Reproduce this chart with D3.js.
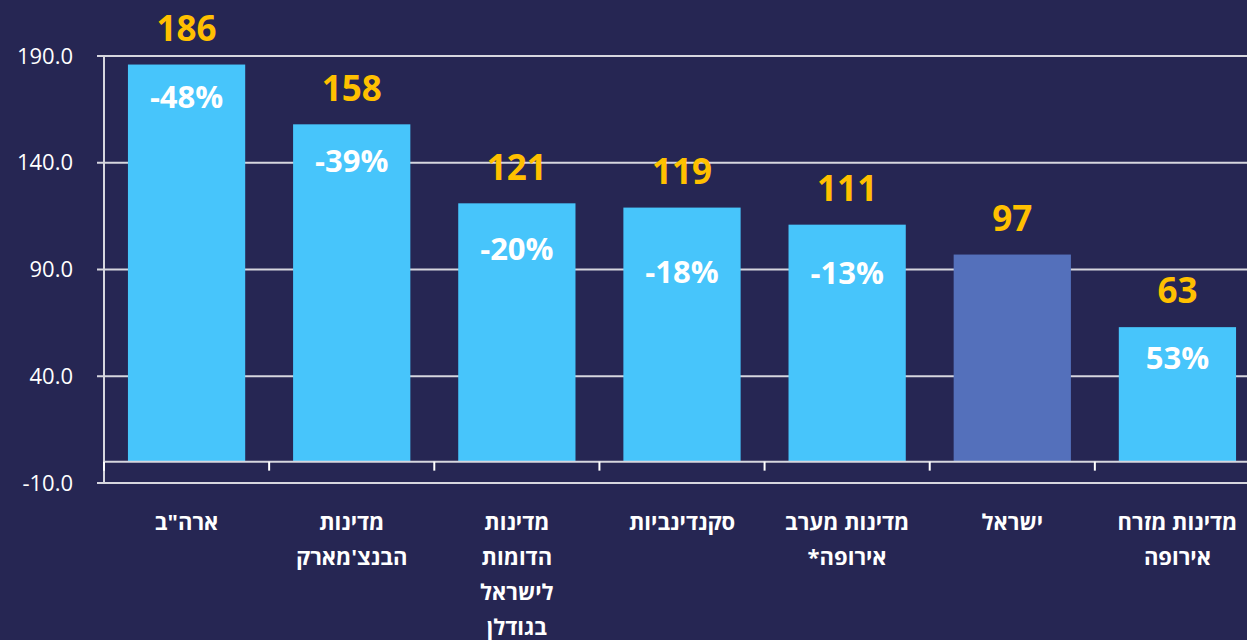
<!DOCTYPE html>
<html><head><meta charset="utf-8">
<script src="https://cdn.jsdelivr.net/npm/d3@7"></script>
<style>html,body{margin:0;padding:0;background:#262653;}svg{display:block;}</style>
</head><body>
<svg id="chart" width="1247" height="640"></svg>
<script>
const categories = [
  ["ארה\"ב"],
  ["מדינות", "הבנצ'מארק"],
  ["מדינות", "הדומות", "לישראל", "בגודלן"],
  ["סקנדינביות"],
  ["מדינות מערב", "אירופה*"],
  ["ישראל"],
  ["מדינות מזרח", "אירופה"]
];
const values = [186, 158, 121, 119, 111, 97, 63];
const pctLabels = ["-48%", "-39%", "-20%", "-18%", "-13%", "", "53%"];
const highlight = [false, false, false, false, false, true, false];
const yTicks = [-10, 40, 90, 140, 190];
// layout: distance of percent label centre below bar top
const pctOffsets = [33, 37, 46, 65, 48, 0, 31];

const svg = d3.select("#chart");
const W = 1247, H = 640;
svg.append("rect").attr("width", W).attr("height", H).attr("fill", "#262653");

const ids = categories.map((c, i) => i);
const x = d3.scaleBand().domain(ids).range([104, 1260]).paddingInner(0.29).paddingOuter(0.145);
const y = d3.scaleLinear().domain([-10, 190]).range([483, 56]);

const grid = "#d6d6de";
// gridlines
svg.append("g").selectAll("line").data(yTicks).join("line")
  .attr("x1", 97).attr("x2", W)
  .attr("y1", d => y(d)).attr("y2", d => y(d))
  .attr("stroke", grid).attr("stroke-width", 2);
// y axis line
svg.append("line").attr("x1", 104).attr("x2", 104).attr("y1", y(190)).attr("y2", y(-10))
  .attr("stroke", grid).attr("stroke-width", 2);
// y tick labels
svg.append("g").selectAll("text").data(yTicks).join("text")
  .attr("x", 73).attr("y", d => y(d)).attr("dy", "0.35em")
  .attr("text-anchor", "end")
  .attr("font-family", "Open Sans, sans-serif").attr("font-size", 22)
  .attr("fill", "#ffffff").text(d => d.toFixed(1));

// bars
svg.append("g").selectAll("rect").data(ids).join("rect")
  .attr("x", i => x(i)).attr("width", x.bandwidth())
  .attr("y", i => y(values[i])).attr("height", i => y(0) - y(values[i]))
  .attr("fill", i => highlight[i] ? "#5470bb" : "#47c5fb");

// x axis at zero
svg.append("line").attr("x1", 104).attr("x2", W).attr("y1", y(0)).attr("y2", y(0))
  .attr("stroke", grid).attr("stroke-width", 2);
const bounds = ids.map(i => x(i) - x.step() * x.paddingInner() / 2);
svg.append("g").selectAll("line").data(bounds).join("line")
  .attr("x1", d => d).attr("x2", d => d)
  .attr("y1", y(0)).attr("y2", y(0) + 9)
  .attr("stroke", "#ffffff").attr("stroke-width", 2);

// value labels
svg.append("g").selectAll("text").data(ids).join("text")
  .attr("x", i => x(i) + x.bandwidth() / 2)
  .attr("y", i => y(values[i]) - 36).attr("dy", "0.35em")
  .attr("text-anchor", "middle")
  .attr("font-family", "Open Sans, sans-serif").attr("font-weight", "bold").attr("font-size", 35)
  .attr("fill", "#ffc000").text(i => values[i]);

// percent labels
svg.append("g").selectAll("text").data(ids.filter(i => pctLabels[i])).join("text")
  .attr("x", i => x(i) + x.bandwidth() / 2)
  .attr("y", i => y(values[i]) + pctOffsets[i]).attr("dy", "0.35em")
  .attr("text-anchor", "middle")
  .attr("font-family", "Open Sans, sans-serif").attr("font-weight", "bold").attr("font-size", 31)
  .attr("fill", "#ffffff").text(i => pctLabels[i]);

// category labels
const cat = svg.append("g").selectAll("text").data(ids).join("text")
  .attr("text-anchor", "middle")
  .attr("direction", "rtl")
  .attr("font-family", "Open Sans, sans-serif").attr("font-weight", "bold").attr("font-size", 22)
  .attr("fill", "#ffffff");
cat.each(function(i) {
  const t = d3.select(this);
  categories[i].forEach((line, k) => {
    t.append("tspan").attr("x", x(i) + x.bandwidth() / 2).attr("y", 522 + k * 35)
      .attr("dy", "0.35em").text(line);
  });
});
</script>
</body></html>
